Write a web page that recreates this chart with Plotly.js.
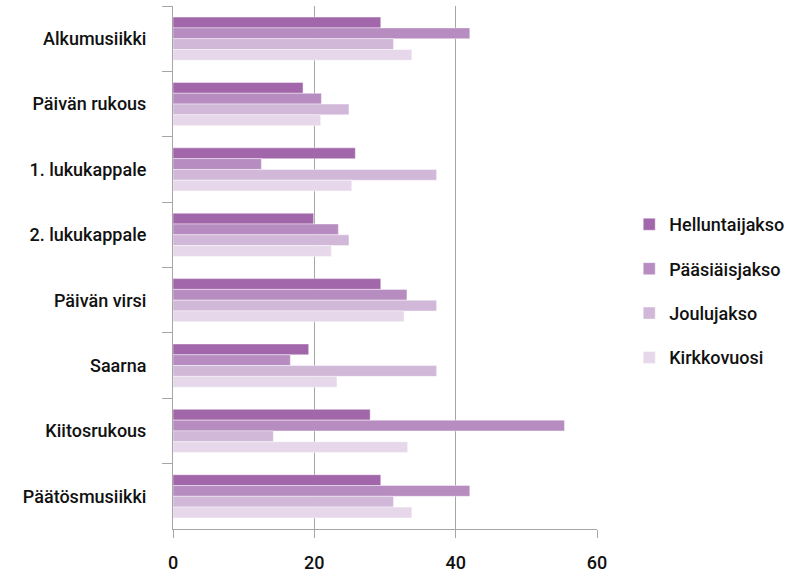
<!DOCTYPE html>
<html>
<head>
<meta charset="utf-8">
<script src="https://cdn.plot.ly/plotly-3.0.1.min.js"></script>
<style>html,body{margin:0;padding:0;background:#fff;}#chart{width:797px;height:576px;}</style>
</head>
<body>
<div id="chart"></div>
<script>
const categories = ["Alkumusiikki", "Päivän rukous", "1. lukukappale", "2. lukukappale", "Päivän virsi", "Saarna", "Kiitosrukous", "Päätösmusiikki"];
const seriesNames = ["Helluntaijakso", "Pääsiäisjakso", "Joulujakso", "Kirkkovuosi"];
const helluntaijakso = [29.4, 18.4, 25.8, 19.9, 29.4, 19.2, 27.9, 29.4];
const paasiaisjakso  = [42.0, 21.0, 12.5, 23.4, 33.1, 16.6, 55.4, 42.0];
const joulujakso     = [31.2, 24.9, 37.3, 24.9, 37.3, 37.3, 14.2, 31.2];
const kirkkovuosi    = [33.8, 20.9, 25.3, 22.4, 32.7, 23.2, 33.2, 33.8];
const xTicks = [0, 20, 40, 60];

const colors = ["#A266AA", "#B78CC0", "#D1B8D8", "#E6D8EA"];
const values = [helluntaijakso, paasiaisjakso, joulujakso, kirkkovuosi];

const traces = values.map((v, i) => ({
  type: "bar",
  orientation: "h",
  name: seriesNames[i],
  legendgroup: "g" + i,
  x: v,
  y: categories,
  marker: {color: colors[i], line: {color: "rgba(255,255,255,0.7)", width: 0.6}},
  hoverinfo: "x+name"
}));

const layout = {
  width: 797, height: 576,
  margin: {l: 173, r: 200, t: 6, b: 47, autoexpand: false},
  paper_bgcolor: "#fff", plot_bgcolor: "#fff",
  font: {family: "Roboto, sans-serif", size: 18, color: "#111", weight: 500},
  barmode: "group",
  bargap: 0.34,
  bargroupgap: 0,
  xaxis: {
    range: [0, 60],
    tickvals: xTicks,
    ticktext: xTicks.map(String),
    showgrid: true, gridcolor: "#a6a6a6", gridwidth: 1,
    showline: true, linecolor: "#a6a6a6", linewidth: 1,
    ticks: "outside", ticklen: 8, tickcolor: "#a6a6a6",
    ticklabelstandoff: 9,
    tickfont: {size: 18, color: "#111", weight: 500},
    zeroline: false, fixedrange: true, automargin: false
  },
  yaxis: {
    type: "category",
    autorange: "reversed",
    showline: true, linecolor: "#a6a6a6", linewidth: 1,
    ticks: "outside", ticklen: 10, tickcolor: "#a6a6a6",
    tickson: "boundaries",
    ticklabelstandoff: 22,
    tickfont: {size: 18, color: "#111", weight: 500},
    showgrid: false, zeroline: false, fixedrange: true, automargin: false
  },
  legend: {
    x: 1.076, xanchor: "left",
    y: 0.455, yanchor: "middle",
    font: {size: 18, color: "#111", weight: 500},
    tracegroupgap: 18,
    traceorder: "grouped",
    bgcolor: "rgba(0,0,0,0)"
  },
  showlegend: true
};

Plotly.newPlot("chart", traces, layout, {displayModeBar: false, staticPlot: true});
</script>
</body>
</html>
